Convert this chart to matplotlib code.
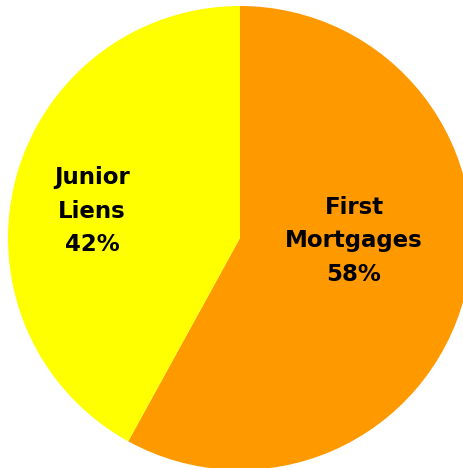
import matplotlib.pyplot as plt

# Loan portfolio split by lien position
labels = ['First\nMortgages', 'Junior\nLiens']
shares = [58, 42]
colors = ['#FF9900', '#FFFF00']

W, H = 463, 468

fig = plt.figure(figsize=(W / 100, H / 100), dpi=100)
ax = fig.add_axes([0, 0, 1, 1])

ax.pie(shares, colors=colors, startangle=90, counterclock=False,
       center=(240, 230), radius=232,
       wedgeprops=dict(linewidth=0))

# pie() resets the limits, so pin the pixel-sized frame afterwards
ax.set_xlim(0, W)
ax.set_ylim(0, H)
ax.set_aspect('equal')
ax.axis('off')

# slice labels placed inside each wedge
label_pos = [(354, 227), (92, 257)]
for (x, y), lab, val in zip(label_pos, labels, shares):
    ax.text(x, y, f"{lab}\n{val}%", ha='center', va='center',
            fontsize=16.5, fontweight='bold', linespacing=1.6,
            family='DejaVu Sans')

fig.savefig('out.png', dpi=100)
